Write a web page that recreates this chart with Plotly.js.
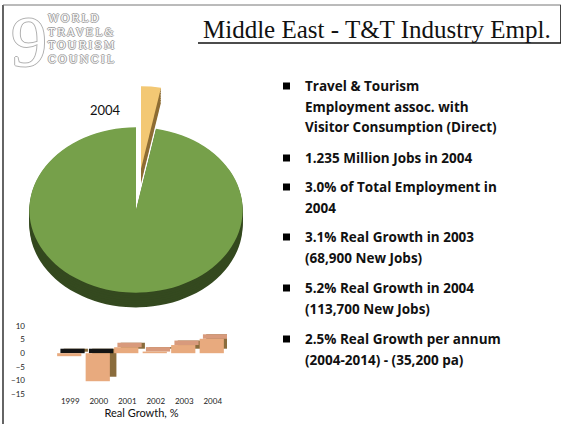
<!DOCTYPE html>
<html><head><meta charset="utf-8">
<script src="https://cdn.plot.ly/plotly-3.0.1.min.js"></script>
<style>
html,body{margin:0;padding:0;background:#fff;overflow:hidden;width:562px;height:424px;}
#chart{position:absolute;left:0;top:0;width:562px;height:424px;}
#pie{position:absolute;pointer-events:none;transform-origin:0 0;}
#chart g.annotation[data-index="1"] text{letter-spacing:2px;}
</style></head><body>
<div id="chart"></div><div id="pie"></div>
<script>
// ---- data ----
const pieLabels = ['Travel & Tourism (Direct)', 'Rest of Employment'];
const pieValues = [3.0, 97.0];
const pieYearLabel = '2004';
const growthYears = ['1999', '2000', '2001', '2002', '2003', '2004'];
const growthValues = [-1.1, -10.3, 2.2, 0.6, 3.0, 5.3];
const growthTicks = [10, 5, 0, -5, -10, -15];
const growthTitle = 'Real Growth, %';
const titleText = 'Middle East - T&T Industry Empl.';
const logoLines = ['WORLD', 'TRAVEL&', 'TOURISM', 'COUNCIL'];
const bulletGroups = [
  ['Travel & Tourism', 'Employment assoc. with', 'Visitor Consumption (Direct)'],
  ['1.235 Million Jobs in 2004'],
  ['3.0% of Total Employment in', '2004'],
  ['3.1% Real Growth in 2003', '(68,900 New Jobs)'],
  ['5.2% Real Growth in 2004', '(113,700 New Jobs)'],
  ['2.5% Real Growth per annum', '(2004-2014) - (35,200 pa)']
];

// ---- helpers ----
const W = 562, H = 424;
const px = x => x / W;
const py = y => 1 - y / H;
const esc = t => t.replace(/&/g, '&amp;');

// ---- main figure ----
const frontW = 0.85, frontOff = -0.46, dx = 0.23, dy = 1.65;
const traces = [
  { // side faces
    type: 'bar', x: growthYears,
    y: growthValues.map(v => Math.abs(v)),
    base: growthValues.map(v => Math.min(0, v) + dy),
    width: frontW, offset: frontOff + dx,
    marker: {color: '#8a6c3c', line: {width: 0}}, hoverinfo: 'skip'
  },
  { // top faces
    type: 'bar', x: growthYears,
    y: growthValues.map(() => dy),
    base: growthValues.map(v => Math.max(0, v)),
    width: frontW, offset: frontOff + dx / 2,
    marker: {color: growthValues.map(v => v < 0 ? '#141414' : '#d89a7c'), line: {width: 0}}, hoverinfo: 'skip'
  },
  { // front faces
    type: 'bar', x: growthYears, y: growthValues,
    width: frontW, offset: frontOff,
    marker: {color: '#e8aa7e', line: {width: 0}}
  }
];

const annotations = [];
const shapes = [];
const outline = c => '1px 0 ' + c + ', -1px 0 ' + c + ', 0 1px ' + c + ', 0 -1px ' + c;
// logo
annotations.push({xref: 'paper', yref: 'paper', x: px(9), y: py(42), xanchor: 'left', yanchor: 'middle',
  text: '9', showarrow: false,
  font: {family: 'Liberation Serif', size: 72, color: '#ffffff', shadow: outline('#b0b0b0')}});
annotations.push({xref: 'paper', yref: 'paper', x: px(46), y: py(39), xanchor: 'left', yanchor: 'middle', align: 'left',
  text: logoLines.map(esc).join('<br>'), showarrow: false,
  font: {family: 'DejaVu Serif', size: 10.5, color: '#ffffff', shadow: outline('#a0a0a0')}});
// pie year label
annotations.push({xref: 'paper', yref: 'paper', x: px(105), y: py(110), xanchor: 'center', yanchor: 'middle',
  text: pieYearLabel, showarrow: false, font: {family: 'Lato', size: 13, color: '#111'}});
// bullets
const groupY = [86, 158, 187, 237, 288, 339];
const lineGap = 20.7;
bulletGroups.forEach((g, gi) => {
  const y0 = groupY[gi];
  shapes.push({type: 'rect', xref: 'paper', yref: 'paper', x0: px(283), x1: px(290), y0: py(y0 + 3.5), y1: py(y0 - 3.5),
    fillcolor: '#000', line: {width: 0}});
  g.forEach((t, li) => {
    annotations.push({xref: 'paper', yref: 'paper', x: px(303), y: py(y0 + li * lineGap), xanchor: 'left', yanchor: 'middle',
      text: '<b>' + esc(t) + '</b>', showarrow: false,
      font: {family: 'Open Sans', size: 13.5, color: '#111'}});
  });
});
// frame lines
shapes.push({type: 'line', xref: 'paper', yref: 'paper', x0: px(3), x1: px(3), y0: py(5), y1: py(424), line: {color: '#111', width: 1.3}});
shapes.push({type: 'line', xref: 'paper', yref: 'paper', x0: px(3), x1: px(561), y0: py(5), y1: py(5), line: {color: '#777', width: 1}});
shapes.push({type: 'line', xref: 'paper', yref: 'paper', x0: px(560.5), x1: px(560.5), y0: py(5), y1: py(43), line: {color: '#444', width: 1}});
shapes.push({type: 'line', xref: 'paper', yref: 'paper', x0: px(198), x1: px(561), y0: py(43), y1: py(43), line: {color: '#111', width: 1.6}});

const layout = {
  width: W, height: H, margin: {l: 0, r: 0, t: 0, b: 0},
  paper_bgcolor: '#fff', plot_bgcolor: 'rgba(0,0,0,0)',
  showlegend: false, barmode: 'overlay',
  title: {text: titleText, x: px(203), xanchor: 'left', y: py(29), yanchor: 'middle', xref: 'paper',
    font: {family: 'Liberation Serif', size: 25, color: '#111'}},
  xaxis: {domain: [px(56), px(227)], range: [-0.5, 5.5], type: 'category', showgrid: false, zeroline: false,
    showline: false, ticks: '', tickfont: {family: 'Lato', size: 8, color: '#222'}, ticklabelstandoff: 1,
    title: {text: growthTitle, standoff: 2, font: {family: 'Lato', size: 11, color: '#111'}}},
  yaxis: {domain: [py(394), py(326)], range: [-15, 10], tickvals: growthTicks, showgrid: false, zeroline: false,
    showline: false, ticks: '', tickfont: {family: 'Lato', size: 8, color: '#222'}, ticklabelstandoff: 30},
  annotations: annotations, shapes: shapes
};
Plotly.newPlot('chart', traces, layout, {staticPlot: true, displayModeBar: false});

// ---- 3D-looking pie (separate layer, squashed vertically) ----
const r = 106.5, pull = 0.5, D = 2 * r * (1 + pull), T = 19, s = 0.775;
const cx = 136, cy = 210;
const pieDiv = document.getElementById('pie');
pieDiv.style.left = (cx - D / 2) + 'px';
pieDiv.style.top = (cy - s * D / 2) + 'px';
pieDiv.style.width = D + 'px';
pieDiv.style.height = (D + T) + 'px';
pieDiv.style.transform = 'scaleY(' + s + ')';
const HT = D + T;
const pieTraces = [];
[19, 16, 13, 10, 7, 4, 1].forEach(k => {
  pieTraces.push({type: 'pie', labels: pieLabels, values: pieValues, sort: false, direction: 'clockwise', rotation: 0,
    pull: [pull, 0], textinfo: 'none', hoverinfo: 'skip',
    marker: {colors: ['#8e6d34', '#34491f'], line: {width: 0}},
    domain: {x: [0, 1], y: [(T - k) / HT, (HT - k) / HT]}});
});
pieTraces.push({type: 'pie', labels: pieLabels, values: pieValues, sort: false, direction: 'clockwise', rotation: 0,
  pull: [pull, 0], textinfo: 'none', hoverinfo: 'skip',
  marker: {colors: ['#f3c874', '#76a04a'], line: {width: 0}},
  domain: {x: [0, 1], y: [T / HT, 1]}});
Plotly.newPlot('pie', pieTraces, {width: D, height: HT, margin: {l: 0, r: 0, t: 0, b: 0},
  paper_bgcolor: 'rgba(0,0,0,0)', plot_bgcolor: 'rgba(0,0,0,0)', showlegend: false},
  {staticPlot: true, displayModeBar: false});
</script>
</body></html>
